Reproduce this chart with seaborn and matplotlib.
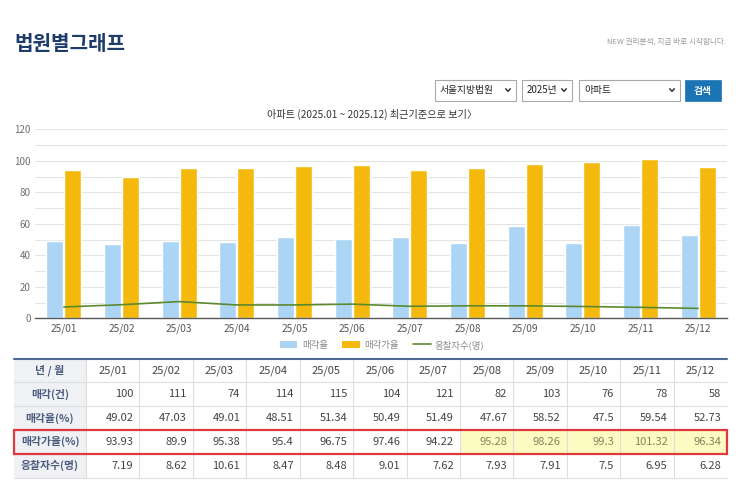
import numpy as np
import pandas as pd
import matplotlib
matplotlib.use("Agg")
import matplotlib.pyplot as plt
from matplotlib.patches import Rectangle
from matplotlib.lines import Line2D
import seaborn as sns

# ---------------- data ----------------
months = ["25/01", "25/02", "25/03", "25/04", "25/05", "25/06",
          "25/07", "25/08", "25/09", "25/10", "25/11", "25/12"]
sale_count = [100, 111, 74, 114, 115, 104, 121, 82, 103, 76, 78, 58]
sale_rate = [49.02, 47.03, 49.01, 48.51, 51.34, 50.49, 51.49, 47.67, 58.52, 47.5, 59.54, 52.73]
price_rate = [93.93, 89.9, 95.38, 95.4, 96.75, 97.46, 94.22, 95.28, 98.26, 99.3, 101.32, 96.34]
bidders = [7.19, 8.62, 10.61, 8.47, 8.48, 9.01, 7.62, 7.93, 7.91, 7.5, 6.95, 6.28]
series_names = ["매각율", "매각가율", "응찰자수(명)"]
row_labels = ["년 / 월", "매각(건)", "매각율(%)", "매각가율(%)", "응찰자수(명)"]
highlight_months = ["25/08", "25/09", "25/10", "25/11", "25/12"]
y_ticks = [0, 20, 40, 60, 80, 100, 120]

# ---------------- style ----------------
sns.set_style("white")
FAM = ["Noto Sans CJK KR", "DejaVu Sans"]
plt.rcParams["font.family"] = FAM

BLUE = "#acd5f5"
YELLOW = "#f5b90d"
GREEN = "#5b8a2e"

W, H = 743, 491
fig = plt.figure(figsize=(W / 100, H / 100), dpi=100)
fig.patch.set_facecolor("white")


def fx(x):
    return x / W


def fy(y):
    return 1 - y / H


# background / overlay axes in pixel coordinates
bg = fig.add_axes([0, 0, 1, 1], zorder=0)
bg.set_xlim(0, W)
bg.set_ylim(H, 0)
bg.axis("off")

# header
bg.text(14, 43, "법원별그래프", fontsize=14.5, fontweight="bold", color="#1d3b6b",
        ha="left", va="center", family=FAM)
bg.text(726, 42, "NEW 권리분석, 지금 바로 시작합니다.", fontsize=5.5, color="#9a9a9a",
        ha="right", va="center", family=FAM)

# dropdowns
boxes = [(435, 516, "서울지방법원"), (522, 572, "2025년"), (579, 680, "아파트")]
for x0, x1, label in boxes:
    bg.add_patch(Rectangle((x0, 80), x1 - x0, 20.5, facecolor="white",
                           edgecolor="#a9a9a9", lw=0.8))
    bg.text(x0 + 5, 90.3, label, fontsize=7, color="#222222", ha="left", va="center", family=FAM)
    cx = x1 - 8
    bg.plot([cx - 2.3, cx, cx + 2.3], [88.8, 91.3, 88.8], color="#333333", lw=1.1,
            solid_capstyle="round")
bg.add_patch(Rectangle((685, 80), 36, 21, facecolor="#1b74b4", edgecolor="#1b74b4", lw=0.5))
bg.text(703, 90.5, "검색", fontsize=7, color="white", fontweight="bold",
        ha="center", va="center", family=FAM)

# chart title
bg.text(372, 114, "아파트 (2025.01 ~ 2025.12) 최근기준으로 보기〉", fontsize=7.3,
        color="#333333", ha="center", va="center", family=FAM)

# ---------------- chart ----------------
ax = fig.add_axes([fx(35), fy(318.3), fx(727) - fx(35), fy(129.3) - fy(318.3)], zorder=2)
ax.patch.set_alpha(0)

df = pd.DataFrame({
    "month": months * 2,
    "series": [series_names[0]] * len(months) + [series_names[1]] * len(months),
    "value": sale_rate + price_rate,
})
sns.barplot(data=df, x="month", y="value", hue="series", order=months,
            hue_order=series_names[:2], palette=[BLUE, YELLOW], saturation=1,
            width=0.62, gap=0.04, legend=False, ax=ax, zorder=2)
sns.lineplot(x=np.arange(len(months)), y=bidders, color=GREEN, lw=1.2, ax=ax, zorder=3)

ax.set_xlim(-0.5, len(months) - 0.5)
ax.set_ylim(0, 120)
ax.set_yticks(y_ticks)
ax.set_yticks(np.arange(10, 120, 20), minor=True)
ax.grid(axis="y", which="both", color="#e4e4e4", lw=0.8, zorder=0)
ax.set_axisbelow(True)
for s in ["left", "right", "top"]:
    ax.spines[s].set_visible(False)
ax.spines["bottom"].set_color("#5a5a5a")
ax.spines["bottom"].set_linewidth(1.0)
ax.tick_params(axis="y", which="both", length=0, pad=3, labelsize=7, labelcolor="#6e6e6e")
ax.tick_params(axis="x", length=0, pad=3.5, labelsize=7.3, labelcolor="#555555")
ax.set_xlabel("")
ax.set_ylabel("")

handles = [Rectangle((0, 0), 1, 1, facecolor=BLUE, edgecolor="none"),
           Rectangle((0, 0), 1, 1, facecolor=YELLOW, edgecolor="none"),
           Line2D([0], [0], color=GREEN, lw=1.2)]
fig.legend(handles, series_names, loc="center", bbox_to_anchor=(fx(382), fy(345)),
           ncol=3, frameon=False, fontsize=6.8, labelcolor="#8a8a8a",
           handlelength=1.9, handleheight=0.85, handletextpad=0.45, columnspacing=1.5,
           prop={"family": FAM, "size": 6.8})

# ---------------- table ----------------
x_left, first_right = 14, 86
col_w = (727 - first_right) / len(months)
row_top, row_h = 358.5, 23.8
n_rows = len(row_labels)

table_rows = [months,
              [f"{v:g}" for v in sale_count],
              [f"{v:g}" for v in sale_rate],
              [f"{v:g}" for v in price_rate],
              [f"{v:g}" for v in bidders]]

# first column background
bg.add_patch(Rectangle((x_left, row_top), first_right - x_left, row_h * n_rows,
                       facecolor="#eff1f5", edgecolor="none", zorder=1))
# highlights
for m in highlight_months:
    j = months.index(m)
    bg.add_patch(Rectangle((first_right + j * col_w, row_top + 3 * row_h), col_w, row_h,
                           facecolor="#fdfbc2", edgecolor="none", zorder=1))
# grid lines
for i in range(1, n_rows + 1):
    y = row_top + i * row_h
    bg.plot([x_left, 727], [y, y], color="#dedede", lw=0.8, zorder=2)
for j in range(len(months)):
    x = first_right + j * col_w
    bg.plot([x, x], [row_top, row_top + n_rows * row_h], color="#dedede", lw=0.8, zorder=2)
bg.plot([x_left, 727], [row_top, row_top], color="#4e6b93", lw=1.5, zorder=3)

for i, label in enumerate(row_labels):
    yc = row_top + (i + 0.5) * row_h
    bg.text((x_left + first_right) / 2, yc, label, fontsize=7.8, fontweight="bold",
            color="#4b5b7c", ha="center", va="center", family=FAM, zorder=4)
    for j, val in enumerate(table_rows[i]):
        if i == 0:
            bg.text(first_right + (j + 0.5) * col_w, yc, val, fontsize=8, color="#444444",
                    ha="center", va="center", family=FAM, zorder=4)
        else:
            col = "#444444"
            if i == 3 and months[j] in highlight_months:
                col = "#86845a"
            bg.text(first_right + (j + 1) * col_w - 6, yc, val, fontsize=8, color=col,
                    ha="right", va="center", family=FAM, zorder=4)

# red box around 매각가율 row
bg.add_patch(Rectangle((13.5, row_top + 3 * row_h), 727 - 13.5, row_h, facecolor="none",
                       edgecolor="#e0393b", lw=1.6, zorder=5))

fig.savefig("out.png", dpi=100, facecolor="white")
